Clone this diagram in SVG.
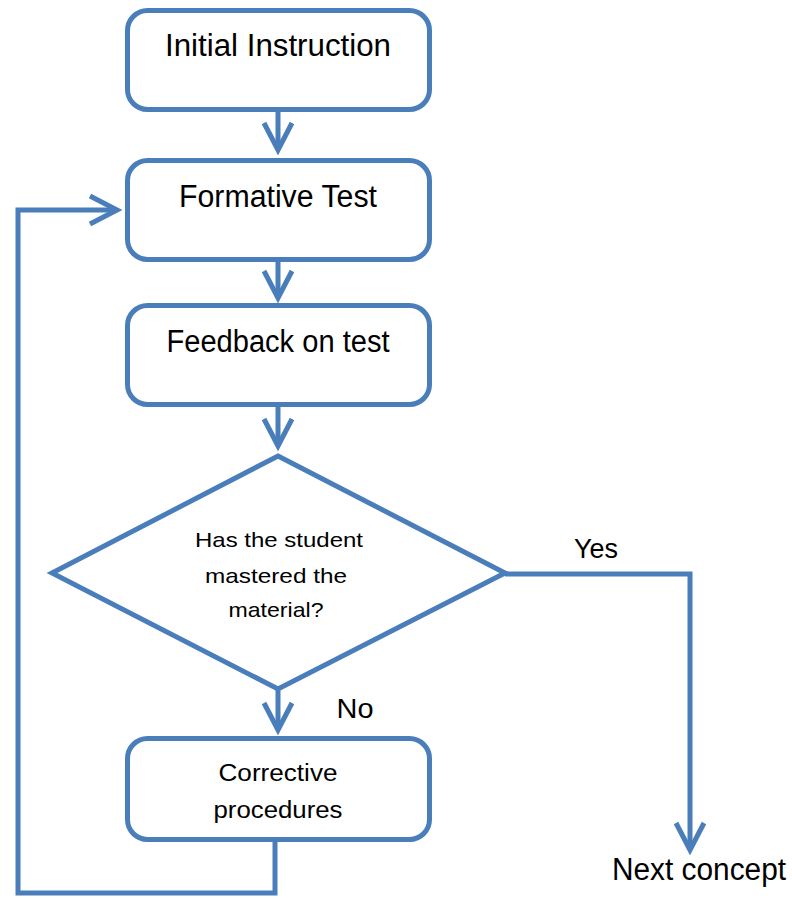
<svg xmlns="http://www.w3.org/2000/svg" width="792" height="899" viewBox="0 0 792 899">
<style>
.box{fill:#fff;stroke:#4A7EBB;stroke-width:5}
.ln{fill:none;stroke:#4A7EBB;stroke-width:5}
.t{font-family:"Liberation Sans",Arial,sans-serif;fill:#000;text-anchor:middle}
</style>
<defs>
<marker id="chev" markerUnits="userSpaceOnUse" viewBox="-35 -20 40 40" markerWidth="40" markerHeight="40" refX="0" refY="0" orient="auto">
<path d="M-27,-14 L0,0 L-27,14" fill="none" stroke="#4A7EBB" stroke-width="5"/>
</marker>
</defs>
<rect width="792" height="899" fill="#fff"/>
<g id="connectors">
<line class="ln" x1="278" y1="110" x2="278" y2="150" marker-end="url(#chev)"/>
<line class="ln" x1="278" y1="260" x2="278" y2="298" marker-end="url(#chev)"/>
<line class="ln" x1="278" y1="405" x2="278" y2="446" marker-end="url(#chev)"/>
<line class="ln" x1="278" y1="688" x2="278" y2="730" marker-end="url(#chev)"/>
<polyline class="ln" points="505,574 690,574 690,850" marker-end="url(#chev)"/>
<polyline class="ln" points="275,840 275,893 18,893 18,210 117,210" marker-end="url(#chev)"/>
</g>
<g id="initial">
<rect class="box" x="127.5" y="10.5" width="302" height="99" rx="20"/>
<text class="t" x="278" y="56" font-size="31" textLength="226" lengthAdjust="spacingAndGlyphs">Initial Instruction</text>
</g>
<g id="formative">
<rect class="box" x="127.5" y="160.5" width="302" height="99" rx="20"/>
<text class="t" x="278" y="207" font-size="31" textLength="198" lengthAdjust="spacingAndGlyphs">Formative Test</text>
</g>
<g id="feedback">
<rect class="box" x="127.5" y="305.5" width="302" height="99" rx="20"/>
<text class="t" x="278" y="352" font-size="31" textLength="223" lengthAdjust="spacingAndGlyphs">Feedback on test</text>
</g>
<g id="decision">
<polygon class="box" points="278,456 505,573 278,689 52,573"/>
<text class="t" x="279" y="547" font-size="21" textLength="168" lengthAdjust="spacingAndGlyphs">Has the student</text>
<text class="t" x="276" y="583" font-size="21" textLength="142" lengthAdjust="spacingAndGlyphs">mastered the</text>
<text class="t" x="276" y="617" font-size="21" textLength="95" lengthAdjust="spacingAndGlyphs">material?</text>
</g>
<g id="corrective">
<rect class="box" x="127.5" y="738.5" width="302" height="101" rx="20"/>
<text class="t" x="278" y="781" font-size="23" textLength="119" lengthAdjust="spacingAndGlyphs">Corrective</text>
<text class="t" x="278" y="818" font-size="23" textLength="129" lengthAdjust="spacingAndGlyphs">procedures</text>
</g>
<g id="labels">
<text class="t" x="596" y="558" font-size="28" textLength="44" lengthAdjust="spacingAndGlyphs">Yes</text>
<text class="t" x="355" y="718" font-size="28" textLength="37" lengthAdjust="spacingAndGlyphs">No</text>
</g>
<g id="next">
<text class="t" x="699" y="880" font-size="31" textLength="174" lengthAdjust="spacingAndGlyphs">Next concept</text>
</g>
</svg>
